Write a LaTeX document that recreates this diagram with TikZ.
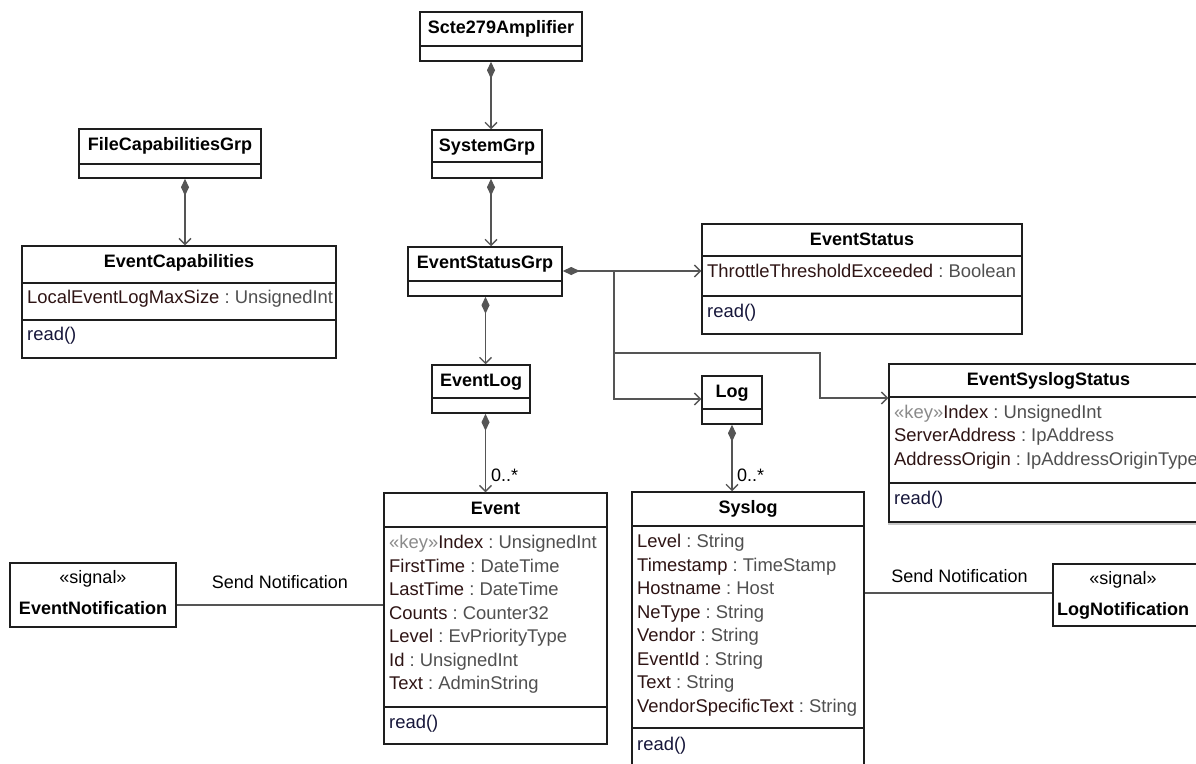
\documentclass[tikz,border=0pt]{standalone}
\usepackage{fontspec}
\setmainfont{Liberation Sans}
\usetikzlibrary{arrows.meta,fit}

\definecolor{attrname}{HTML}{2E1414}
\definecolor{attrtype}{HTML}{505050}
\definecolor{opcol}{HTML}{16163A}
\definecolor{keycol}{HTML}{8A8A8A}
\definecolor{linkcol}{HTML}{555555}
\definecolor{boxcol}{HTML}{1E1E1E}

\tikzset{
  umlbox/.style={draw=boxcol, line width=1.5pt, inner sep=0pt, fill=white},
  sepline/.style={draw=boxcol, line width=1.5pt},
  title/.style={font=\fontsize{18}{22}\selectfont\bfseries, anchor=base, inner sep=0pt, text=black},
  attr/.style={font=\fontsize{18.4}{22}\selectfont, anchor=base west, inner sep=0pt},
  oper/.style={attr, text=opcol},
  lbl/.style={font=\fontsize{18}{22}\selectfont, inner sep=0pt, text=black},
  link/.style={draw=linkcol, line width=1.3pt},
  comp/.style={link, {Diamond[length=17pt,width=8pt,fill=linkcol,color=linkcol]}-{Straight Barb[length=6pt,width=12pt]}},
  navig/.style={link, -{Straight Barb[length=6pt,width=12pt]}},
}

% attribute "name : type"
\newcommand{\umlattr}[2]{\textcolor{attrname}{#1}~\textcolor{attrtype}{:~#2}}
\newcommand{\umlkey}{\textcolor{keycol}{«key»}}
% class frame with its title: name, x1, y1, x2, y2, title
\newcommand{\umlhead}[6]{%
  \node[umlbox, fit={(#2,#3)(#4,#5)}] (#1) {};
  \node[title] (#1-t) at ({(#2+#4)/2},{#3+21}) {#6};
}

\begin{document}
\begin{tikzpicture}[x=1pt,y=-1pt]
\useasboundingbox (0,0) rectangle (1196,763);
\clip (0,0) rectangle (1196,763);
\fill[white] (0,0) rectangle (1196,763);

% ---- classes ----
\umlhead{scte}{420}{12}{582}{61}{Scte279Amplifier}
\draw[sepline] (420,46) -- (582,46);

\umlhead{sys}{432}{130}{542}{178}{SystemGrp}
\draw[sepline] (432,162) -- (542,162);

\umlhead{filecap}{79}{129}{261}{178}{FileCapabilitiesGrp}
\draw[sepline] (79,164) -- (261,164);

\umlhead{evcap}{22}{246}{336}{358}{EventCapabilities}
\draw[sepline] (22,283) -- (336,283);
\draw[sepline] (22,320) -- (336,320);
\node[attr] (evcap-a1) at (27,303.5) {\umlattr{LocalEventLogMaxSize}{UnsignedInt}};
\node[oper] (evcap-op) at (27,340.5) {read()};

\umlhead{esg}{408}{247}{562}{296}{EventStatusGrp}
\draw[sepline] (408,281) -- (562,281);

\umlhead{evstatus}{702}{224}{1022}{334}{EventStatus}
\draw[sepline] (702,256) -- (1022,256);
\draw[sepline] (702,296) -- (1022,296);
\node[attr] (evstatus-a1) at (707,277.5) {\umlattr{ThrottleThresholdExceeded}{Boolean}};
\node[oper] (evstatus-op) at (707,317.5) {read()};

\umlhead{evlog}{432}{365}{530}{413}{EventLog}
\draw[sepline] (432,398) -- (530,398);

\umlhead{log}{702}{376}{762}{424}{Log}
\draw[sepline] (702,409) -- (762,409);

\fill[black!22] (887.5,366.5) rectangle (1206,524.5);
\umlhead{esys}{889}{364}{1208}{522}{EventSyslogStatus}
\draw[sepline] (889,397) -- (1208,397);
\draw[sepline] (889,483) -- (1208,483);
\node[attr] (esys-a1) at (894,418) {\umlkey\umlattr{Index}{UnsignedInt}};
\node[attr] (esys-a2) at (894,441.5) {\umlattr{ServerAddress}{IpAddress}};
\node[attr] (esys-a3) at (894,465) {\umlattr{AddressOrigin}{IpAddressOriginType}};
\node[oper] (esys-op) at (894,504) {read()};

\umlhead{event}{384}{493}{607}{744}{Event}
\draw[sepline] (384,527) -- (607,527);
\draw[sepline] (384,707) -- (607,707);
\node[attr] (event-a1) at (389,548.5) {\umlkey\umlattr{Index}{UnsignedInt}};
\node[attr] (event-a2) at (389,572) {\umlattr{FirstTime}{DateTime}};
\node[attr] (event-a3) at (389,595.5) {\umlattr{LastTime}{DateTime}};
\node[attr] (event-a4) at (389,619) {\umlattr{Counts}{Counter32}};
\node[attr] (event-a5) at (389,642.5) {\umlattr{Level}{EvPriorityType}};
\node[attr] (event-a6) at (389,666) {\umlattr{Id}{UnsignedInt}};
\node[attr] (event-a7) at (389,689.5) {\umlattr{Text}{AdminString}};
\node[oper] (event-op) at (389,728.5) {read()};

\umlhead{syslog}{632}{492}{864}{800}{Syslog}
\draw[sepline] (632,526) -- (864,526);
\draw[sepline] (632,728) -- (864,728);
\node[attr] (syslog-a1) at (637,547.5) {\umlattr{Level}{String}};
\node[attr] (syslog-a2) at (637,571) {\umlattr{Timestamp}{TimeStamp}};
\node[attr] (syslog-a3) at (637,594.5) {\umlattr{Hostname}{Host}};
\node[attr] (syslog-a4) at (637,618) {\umlattr{NeType}{String}};
\node[attr] (syslog-a5) at (637,641.5) {\umlattr{Vendor}{String}};
\node[attr] (syslog-a6) at (637,665) {\umlattr{EventId}{String}};
\node[attr] (syslog-a7) at (637,688.5) {\umlattr{Text}{String}};
\node[attr] (syslog-a8) at (637,712) {\umlattr{VendorSpecificText}{String}};
\node[oper] (syslog-op) at (637,750) {read()};

% ---- signals ----
\node[umlbox, fit={(10,563)(176,627)}] (evnotif) {};
\node[lbl, anchor=base] (evnotif-s) at (93,583) {«signal»};
\node[title] (evnotif-t) at (93,614) {EventNotification};

\node[umlbox, fit={(1053,564)(1210,626)}] (lognotif) {};
\node[lbl, anchor=base] (lognotif-s) at (1123,584) {«signal»};
\node[title] (lognotif-t) at (1123,615) {LogNotification};

% ---- connectors ----
\coordinate (xs) at (491,0);
\coordinate (xf) at (185,0);
\coordinate (xe) at (485.5,0);
\coordinate (xl) at (732,0);
\coordinate (yb) at (0,271);
\coordinate (yl) at (0,399);
\coordinate (ye) at (0,398);
\coordinate (j1) at (614,271);
\coordinate (j2) at (614,353);
\coordinate (k1) at (820,353);
\coordinate (yn1) at (0,605);
\coordinate (yn2) at (0,593);

\draw[comp] (scte.south -| xs) -- (sys.north -| xs);
\draw[comp] (sys.south -| xs) -- (esg.north -| xs);
\draw[comp] (filecap.south -| xf) -- (evcap.north -| xf);
\draw[comp] (esg.south -| xe) -- (evlog.north -| xe);
\draw[comp] (evlog.south -| xe) -- (event.north -| xe);
\draw[comp] (log.south -| xl) -- (syslog.north -| xl);
\draw[comp] (esg.east |- yb) -- (evstatus.west |- yb);
\draw[navig] (j1) |- (log.west |- yl);
\draw[navig] (j2) -- (k1) |- (esys.west |- ye);

\draw[link] (evnotif.east |- yn1) -- (event.west |- yn1);
\draw[link] (syslog.east |- yn2) -- (lognotif.west |- yn2);

% ---- labels ----
\node[lbl, anchor=base west] (m1) at (491,481) {0..*};
\node[lbl, anchor=base west] (m2) at (737,481) {0..*};
\node[lbl, anchor=base] (s1) at (280,588) {Send Notification};
\node[lbl, anchor=base] (s2) at (959.5,582) {Send Notification};
\end{tikzpicture}
\end{document}
